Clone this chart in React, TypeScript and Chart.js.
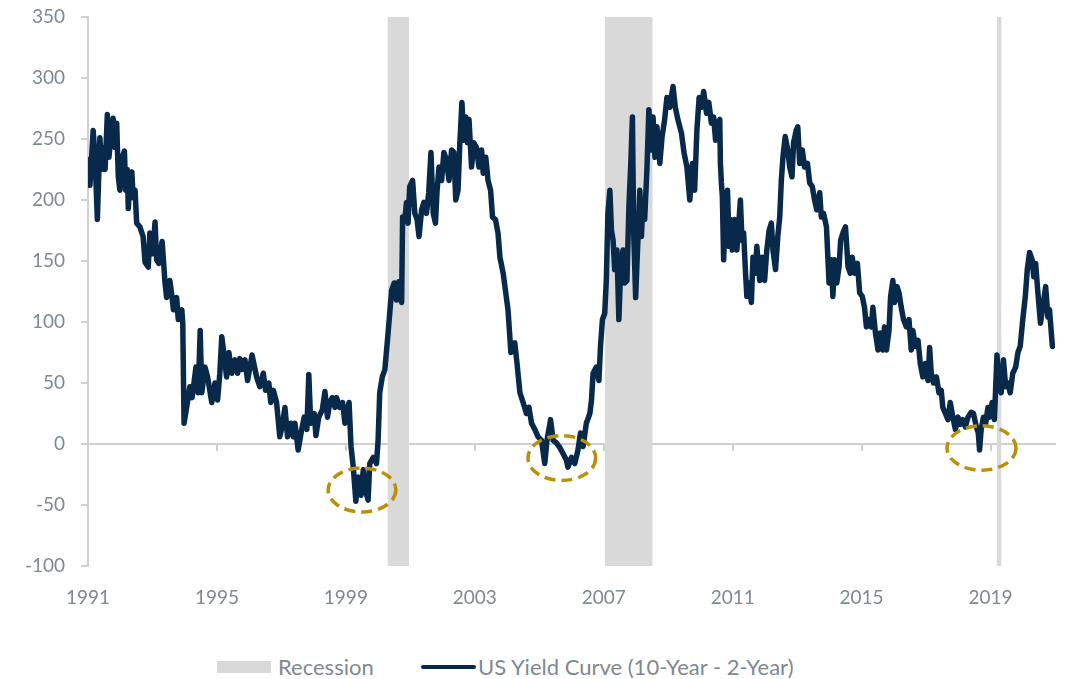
import React, { useEffect, useRef } from "react";
import { Chart, registerables } from "chart.js";

Chart.register(...registerables);

// ---- data ----
const YEARS = [
  1991.03, 1991.06, 1991.16, 1991.22, 1991.29, 1991.37, 1991.42, 1991.47, 1991.53, 1991.6, 1991.65, 1991.7, 1991.78, 1991.84, 1991.89, 1991.94, 1991.99,
  1992.06, 1992.13, 1992.17, 1992.22, 1992.25, 1992.3, 1992.36, 1992.4, 1992.46, 1992.51, 1992.61, 1992.71, 1992.77, 1992.87, 1992.92,
  1993.01, 1993.08, 1993.13, 1993.2, 1993.3, 1993.39, 1993.44, 1993.54, 1993.61, 1993.65, 1993.75, 1993.8, 1993.91, 1993.94, 1993.98,
  1994.06, 1994.16, 1994.23, 1994.35, 1994.42, 1994.48, 1994.53, 1994.63, 1994.71, 1994.84, 1994.94,
  1995.02, 1995.09, 1995.15, 1995.23, 1995.3, 1995.37, 1995.46, 1995.56, 1995.64, 1995.71, 1995.78, 1995.87, 1995.95,
  1996.09, 1996.23, 1996.33, 1996.44, 1996.51, 1996.61, 1996.67, 1996.75, 1996.85, 1996.95,
  1997.02, 1997.11, 1997.19, 1997.29, 1997.37, 1997.42, 1997.52, 1997.63, 1997.71, 1997.79, 1997.85, 1997.91,
  1998.02, 1998.07, 1998.16, 1998.27, 1998.35, 1998.43, 1998.5, 1998.58, 1998.66, 1998.71, 1998.81, 1998.9, 1998.97,
  1999.03, 1999.1, 1999.16, 1999.23, 1999.31, 1999.38, 1999.47, 1999.54, 1999.61, 1999.69, 1999.74, 1999.85, 1999.95,
  2000.0, 2000.05, 2000.13, 2000.21, 2000.31, 2000.36, 2000.42, 2000.5, 2000.57, 2000.64, 2000.73, 2000.76, 2000.83, 2000.88, 2000.93, 2000.98,
  2001.07, 2001.14, 2001.21, 2001.27, 2001.35, 2001.42, 2001.5, 2001.57, 2001.64, 2001.71, 2001.78, 2001.83, 2001.89, 2001.97,
  2002.04, 2002.12, 2002.2, 2002.28, 2002.35, 2002.41, 2002.48, 2002.53, 2002.6, 2002.66, 2002.72, 2002.77, 2002.82, 2002.9, 2002.97,
  2003.05, 2003.13, 2003.21, 2003.26, 2003.34, 2003.41, 2003.49, 2003.55, 2003.64, 2003.72, 2003.78, 2003.88, 2003.96,
  2004.03, 2004.12, 2004.24, 2004.31, 2004.4, 2004.5, 2004.6, 2004.68, 2004.76, 2004.86, 2004.96,
  2005.07, 2005.17, 2005.24, 2005.35, 2005.43, 2005.53, 2005.64, 2005.74, 2005.84, 2005.89,
  2006.0, 2006.1, 2006.2, 2006.28, 2006.36, 2006.46, 2006.57, 2006.62, 2006.67, 2006.77, 2006.85, 2006.9, 2006.96,
  2007.03, 2007.08, 2007.13, 2007.19, 2007.24, 2007.29, 2007.34, 2007.41, 2007.47, 2007.53, 2007.6, 2007.65, 2007.72, 2007.78, 2007.84, 2007.89, 2007.93, 2007.99,
  2008.06, 2008.12, 2008.17, 2008.22, 2008.27, 2008.34, 2008.4, 2008.47, 2008.53, 2008.59, 2008.65, 2008.74, 2008.81, 2008.89, 2008.96,
  2009.05, 2009.15, 2009.22, 2009.3, 2009.41, 2009.49, 2009.58, 2009.67, 2009.75, 2009.82, 2009.89, 2009.96,
  2010.03, 2010.1, 2010.19, 2010.26, 2010.34, 2010.41, 2010.47, 2010.54, 2010.6, 2010.62, 2010.65, 2010.68, 2010.72, 2010.78, 2010.84, 2010.89, 2010.94, 2010.99,
  2011.06, 2011.13, 2011.19, 2011.24, 2011.29, 2011.34, 2011.4, 2011.44, 2011.51, 2011.58, 2011.63, 2011.7, 2011.75, 2011.84, 2011.92, 2011.99,
  2012.06, 2012.13, 2012.2, 2012.25, 2012.33, 2012.4, 2012.46, 2012.51, 2012.56, 2012.63, 2012.71, 2012.77, 2012.84, 2012.89, 2012.97,
  2013.02, 2013.08, 2013.16, 2013.23, 2013.32, 2013.39, 2013.47, 2013.54, 2013.61, 2013.7, 2013.75, 2013.82, 2013.91, 2013.99,
  2014.06, 2014.11, 2014.16, 2014.23, 2014.3, 2014.35, 2014.42, 2014.5, 2014.58, 2014.65, 2014.71, 2014.78, 2014.87, 2014.94,
  2015.02, 2015.09, 2015.15, 2015.22, 2015.3, 2015.35, 2015.43, 2015.51, 2015.58, 2015.66, 2015.71, 2015.77, 2015.85, 2015.9, 2015.97,
  2016.02, 2016.1, 2016.16, 2016.23, 2016.3, 2016.39, 2016.47, 2016.54, 2016.59, 2016.67, 2016.75, 2016.82, 2016.9, 2016.98,
  2017.06, 2017.11, 2017.16, 2017.23, 2017.32, 2017.4, 2017.47, 2017.52, 2017.6, 2017.68, 2017.75, 2017.83, 2017.91, 2017.99,
  2018.06, 2018.14, 2018.22, 2018.3, 2018.4, 2018.47, 2018.56, 2018.62, 2018.66, 2018.71, 2018.78, 2018.85, 2018.92, 2018.97,
  2019.05, 2019.12, 2019.2, 2019.26, 2019.33, 2019.4, 2019.47, 2019.54, 2019.61, 2019.69, 2019.78, 2019.85, 2019.92,
  2020.0, 2020.08, 2020.14, 2020.21, 2020.29, 2020.34, 2020.4, 2020.47, 2020.55, 2020.62, 2020.71, 2020.78, 2020.83, 2020.88, 2020.92,
];

const SPREAD = [
  233, 212, 257, 235, 184, 251, 225, 243, 225, 270, 235, 249, 267, 243, 263, 219, 208,
  235, 240, 208, 225, 193, 214, 223, 202, 208, 181, 178, 170, 149, 145, 173,
  156, 182, 151, 148, 166, 132, 120, 134, 120, 110, 120, 102, 110, 99, 17,
  30, 47, 38, 63, 42, 93, 42, 63, 55, 34, 50,
  36, 58, 88, 71, 55, 75, 58, 69, 58, 70, 61, 69, 52,
  73, 55, 47, 58, 44, 50, 34, 44, 34, 6,
  14, 30, 6, 17, 6, 17, -5, 12, 22, 12, 57, 17,
  25, 7, 22, 28, 43, 22, 34, 38, 30, 38, 30, 34, 17,
  25, 34, -2, -19, -47, -27, -42, -21, -38, -46, -16, -11, -16,
  3, 42, 55, 61, 91, 107, 126, 132, 118, 133, 116, 186, 184, 198, 181, 211,
  216, 189, 184, 170, 192, 198, 189, 206, 239, 189, 181, 208, 227, 216,
  239, 233, 216, 241, 239, 200, 208, 243, 280, 249, 268, 247, 266, 227, 247,
  243, 227, 241, 222, 235, 216, 208, 186, 184, 173, 153, 140, 124,
  110, 75, 83, 66, 42, 34, 25, 30, 17, 12, 6,
  3, -16, 3, 20, 3, 1, -3, -8, -13, -19,
  -11, -16, -5, 9, -2, 17, 25, 36, 58, 63, 52, 80, 102,
  107, 134, 189, 208, 175, 167, 143, 159, 102, 148, 159, 132, 134, 194, 230, 268, 173, 120,
  167, 208, 170, 200, 184, 225, 274, 241, 268, 235, 260, 230, 252, 266, 284,
  276, 293, 276, 266, 255, 239, 227, 200, 230, 208, 257, 284,
  276, 289, 271, 280, 263, 268, 249, 263, 266, 230, 214, 203, 151, 194, 208, 162, 184, 159,
  184, 159, 181, 200, 167, 173, 140, 121, 132, 116, 153, 140, 162, 134, 153, 134,
  159, 175, 181, 159, 143, 170, 186, 216, 235, 252, 241, 227, 219, 247, 257,
  260, 230, 241, 227, 230, 214, 211, 200, 192, 206, 186, 189, 178, 132,
  151, 121, 151, 132, 145, 167, 173, 178, 145, 140, 153, 140, 148, 124,
  121, 112, 96, 102, 96, 112, 91, 77, 91, 77, 96, 77, 93, 121, 134,
  116, 129, 124, 112, 102, 96, 102, 77, 93, 80, 85, 66, 55, 66,
  52, 79, 58, 50, 55, 42, 44, 30, 25, 20, 34, 22, 12, 22,
  16, 20, 14, 22, 26, 25, 14, 9, -5, 12, 22, 17, 30, 22,
  34, 20, 73, 47, 42, 69, 47, 50, 42, 58, 63, 75, 80,
  102, 121, 143, 157, 151, 137, 148, 124, 99, 112, 129, 104, 110, 93, 80,
];

const X_TICKS = [1991, 1995, 1999, 2003, 2007, 2011, 2015, 2019];
const X_MIN = 1991;
const X_MAX = 2021;
const Y_MIN = -100;
const Y_MAX = 350;
const Y_STEP = 50;

const RECESSION_START = [2000.29, 2007.04, 2019.19];
const RECESSION_END = [2000.96, 2008.52, 2019.34];

// highlighted inversions (centre year, centre value, half-width in years, half-height in bp)
const CIRCLE_X = [1999.5, 2005.7, 2018.72];
const CIRCLE_Y = [-37.7, -11.5, -3.3];
const CIRCLE_RX = [1.05, 1.05, 1.07];
const CIRCLE_RY = [18, 18.4, 18.2];

const SERIES_LABEL = "US Yield Curve (10-Year - 2-Year)";
const RECESSION_LABEL = "Recession";

const NAVY = "#08294a";
const GREY_BAND = "#d9d9d9";
const AXIS_GREY = "#d0d0d0";
const TEXT_GREY = "#7f8990";
const GOLD = "#b8900c";
const FONT = "Lato";

const ellipsePlugin = {
  id: "inversionCircles",
  afterDatasetsDraw(chart: any) {
    const { ctx, scales } = chart;
    const x = scales.x;
    const y = scales.y;
    for (let i = 0; i < CIRCLE_X.length; i++) {
      const cx = x.getPixelForValue(CIRCLE_X[i]);
      const cy = y.getPixelForValue(CIRCLE_Y[i]);
      const rx = x.getPixelForValue(CIRCLE_X[i] + CIRCLE_RX[i]) - cx;
      const ry = cy - y.getPixelForValue(CIRCLE_Y[i] + CIRCLE_RY[i]);
      ctx.save();
      ctx.beginPath();
      ctx.ellipse(cx, cy, rx, ry, 0, 0, Math.PI * 2);
      ctx.setLineDash([11, 6]);
      ctx.lineWidth = 3.5;
      ctx.strokeStyle = GOLD;
      ctx.stroke();
      ctx.restore();
    }
  },
};

const setXTicks = (scale: any) => {
  scale.ticks = X_TICKS.map((v) => ({ value: v }));
};

export default function App() {
  const canvasRef = useRef<HTMLCanvasElement | null>(null);

  useEffect(() => {
    if (!canvasRef.current) return;
    const lineData = YEARS.map((yr, i) => ({ x: yr, y: SPREAD[i] }));
    const recessionSets = RECESSION_START.map((s, i) => ({
      type: "line" as const,
      label: RECESSION_LABEL,
      data: [
        { x: s, y: Y_MAX },
        { x: RECESSION_END[i], y: Y_MAX },
      ],
      fill: "start",
      backgroundColor: GREY_BAND,
      borderWidth: 0,
      pointRadius: 0,
    }));

    const chart = new Chart(canvasRef.current, {
      type: "line",
      data: {
        datasets: [
          {
            label: SERIES_LABEL,
            data: lineData,
            borderColor: NAVY,
            borderWidth: 5.5,
            pointRadius: 0,
            tension: 0,
            fill: false,
            borderJoinStyle: "round",
            borderCapStyle: "round",
          } as any,
          ...(recessionSets as any),
        ],
      },
      options: {
        animation: false,
        responsive: false,
        maintainAspectRatio: false,
        layout: { padding: { top: 17, left: 0, right: 11, bottom: 0 } },
        plugins: {
          legend: { display: false },
          tooltip: { enabled: false },
        },
        scales: {
          x: {
            type: "linear",
            min: X_MIN,
            max: X_MAX,
            position: "bottom",
            afterBuildTicks: setXTicks,
            afterFit: (s: any) => {
              s.height = 64;
            },
            grid: { display: false, drawTicks: false },
            border: { display: false },
            ticks: {
              padding: 20,
              color: TEXT_GREY,
              font: { family: FONT, size: 19 },
              maxRotation: 0,
              autoSkip: false,
              callback: (v: any) => String(v),
            },
          },
          x2: {
            type: "linear",
            axis: "x",
            min: X_MIN,
            max: X_MAX,
            position: { y: 0 },
            afterBuildTicks: setXTicks,
            grid: {
              display: true,
              drawOnChartArea: false,
              drawTicks: true,
              tickLength: 6,
              color: AXIS_GREY,
              lineWidth: 2,
            },
            border: { display: true, color: AXIS_GREY, width: 2 },
            ticks: { display: false },
          } as any,
          y: {
            type: "linear",
            min: Y_MIN,
            max: Y_MAX,
            afterFit: (s: any) => {
              s.width = 88;
              s.paddingTop = 0;
              s.paddingBottom = 0;
            },
            grid: {
              display: true,
              drawOnChartArea: false,
              drawTicks: true,
              tickLength: 7,
              color: AXIS_GREY,
              lineWidth: 2,
            },
            border: { display: true, color: AXIS_GREY, width: 2 },
            ticks: {
              stepSize: Y_STEP,
              padding: 16,
              color: TEXT_GREY,
              font: { family: FONT, size: 19 },
            },
          },
        },
      } as any,
      plugins: [ellipsePlugin],
    });
    return () => chart.destroy();
  }, []);

  const textStyle: React.CSSProperties = {
    position: "absolute",
    top: 653,
    fontFamily: FONT,
    fontSize: 22,
    lineHeight: "28px",
    color: TEXT_GREY,
    whiteSpace: "nowrap",
  };

  return (
    <div style={{ position: "absolute", left: 0, top: 0, width: 1066, height: 679, background: "#fff" }}>
      <canvas ref={canvasRef} width={1066} height={630} style={{ position: "absolute", left: 0, top: 0, width: 1066, height: 630 }} />
      <div style={{ position: "absolute", left: 217, top: 661, width: 54, height: 12, background: GREY_BAND }} />
      <div style={{ ...textStyle, left: 278 }}>{RECESSION_LABEL}</div>
      <div style={{ position: "absolute", left: 421, top: 665, width: 55, height: 4, borderRadius: 2, background: NAVY }} />
      <div style={{ ...textStyle, left: 478 }}>{SERIES_LABEL}</div>
    </div>
  );
}
